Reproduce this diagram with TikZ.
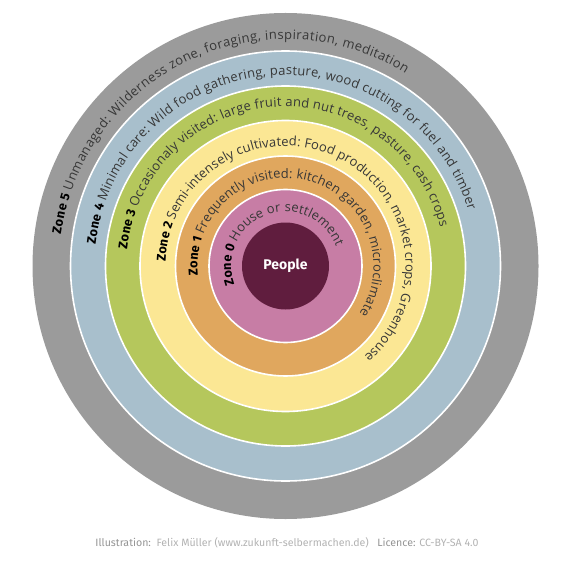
\documentclass[tikz,border=0pt]{standalone}
\usepackage{fontspec}
\usetikzlibrary{decorations.text}
\setmainfont{Open Sans}
\newfontfamily\zonefam{Fira Sans}
\newfontfamily\descfam{Open Sans}
\newfontfamily\footfam{Fira Sans}
\definecolor{zgray}{RGB}{155,155,155}
\definecolor{zblue}{RGB}{168,191,204}
\definecolor{zgreen}{RGB}{181,199,92}
\definecolor{zyellow}{RGB}{251,231,148}
\definecolor{zorange}{RGB}{224,167,94}
\definecolor{zpink}{RGB}{199,125,165}
\definecolor{zpeople}{RGB}{96,29,62}
\definecolor{desctext}{RGB}{55,55,55}
\newcommand\zf{\zonefam\bfseries\fontsize{12.8}{14}\selectfont\color{black}}
\newcommand\df{\descfam\fontsize{13}{15}\selectfont\color{desctext}}
\tikzset{
  zonedisk/.style={fill=#1, draw=white, line width=1.6pt},
  arctext/.style={decorate, decoration={text along path, text={#1}, text align=fit to path}},
}
\begin{document}
\begin{tikzpicture}[x=1pt,y=1pt]
\useasboundingbox (0,0) rectangle (572,563);
\coordinate (C) at (285.5,297);
% disks
\fill[zgray] (C) circle[radius=253];
\path[zonedisk=zblue] (C) circle[radius=215];
\path[zonedisk=zgreen] (C) circle[radius=180];
\path[zonedisk=zyellow] (C) circle[radius=145.5];
\path[zonedisk=zorange] (C) circle[radius=110];
\path[zonedisk=zpink] (C) circle[radius=76.5];
\fill[zpeople] (C) circle[radius=43.5];
\node[text=white, font=\zonefam\bfseries\fontsize{14}{16}\selectfont] (people) at (C) {People};
% curved texts
\path[arctext={|\zf|Zone 5 |\df|Unmanaged: Wilderness zone, foraging, inspiration, meditation}]
  (C) ++(172:226.7) arc[start angle=172, end angle=58, radius=226.7];
\path[arctext={|\zf|Zone 4 |\df|Minimal care: Wild food gathering, pasture, wood cutting for fuel and timber}]
  (C) ++(173.5:191) arc[start angle=173.5, end angle=17, radius=191];
\path[arctext={|\zf|Zone 3 |\df|Occasionaly visited: large fruit and nut trees, pasture, cash crops}]
  (C) ++(174:159.3) arc[start angle=174, end angle=14, radius=159.3];
\path[arctext={|\zf|Zone 2 |\df|Semi-intensely cultivated: Food production, market crops, Greenhouse}]
  (C) ++(178:120) arc[start angle=178, end angle=-49, radius=120];
\path[arctext={|\zf|Zone 1 |\df|Frequently visited: kitchen garden, microclimate}]
  (C) ++(186:88) arc[start angle=186, end angle=-33, radius=88];
\path[arctext={|\zf|Zone 0 |\df|House or settlement}]
  (C) ++(200:54.3) arc[start angle=200, end angle=21, radius=54.3];
% footer
\node[font=\footfam\fontsize{10.6}{12}\selectfont, text=black!30] (footer) at (287,20)
  {{\color{black!42}Illustration:}\ \ Felix Müller (www.zukunft-selbermachen.de)\ \ \ {\color{black!42}Licence:} CC-BY-SA 4.0};
\end{tikzpicture}
\end{document}
